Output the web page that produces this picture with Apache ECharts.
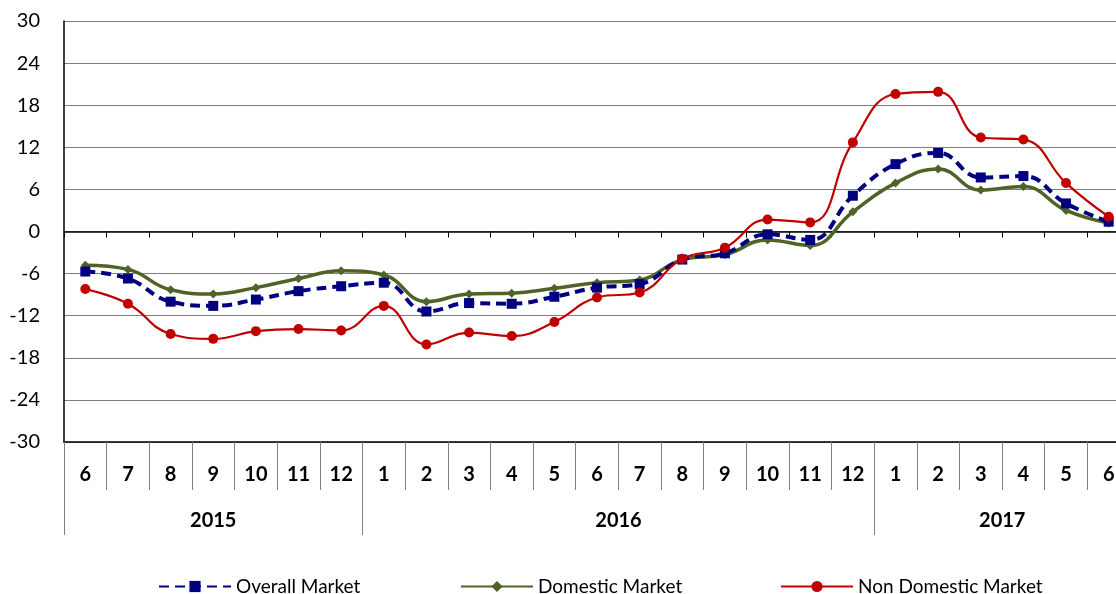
<!DOCTYPE html>
<html><head><meta charset="utf-8">
<script src="https://cdn.jsdelivr.net/npm/echarts@6/dist/echarts.min.js"></script>
<style>html,body{margin:0;padding:0;background:#fff}#c{width:1116px;height:594px}</style>
</head><body><div id="c"></div>
<script>
var months = ['6','7','8','9','10','11','12','1','2','3','4','5','6','7','8','9','10','11','12','1','2','3','4','5','6'];
var years = ['2015','2015','2015','2015','2015','2015','2015','2016','2016','2016','2016','2016','2016','2016','2016','2016','2016','2016','2016','2017','2017','2017','2017','2017','2017'];
var overall = [-5.7,-6.7,-10.0,-10.6,-9.7,-8.5,-7.8,-7.3,-11.4,-10.2,-10.3,-9.3,-8.0,-7.5,-4.0,-3.1,-0.4,-1.2,5.1,9.6,11.2,7.7,7.9,4.0,1.4];
var domestic = [-4.8,-5.4,-8.3,-8.9,-8.0,-6.7,-5.6,-6.2,-10.0,-8.9,-8.8,-8.1,-7.3,-6.9,-4.0,-3.3,-1.2,-2.0,2.8,6.9,8.9,5.9,6.4,3.0,1.2];
var nonDomestic = [-8.2,-10.3,-14.6,-15.3,-14.2,-13.9,-14.1,-10.6,-16.1,-14.4,-14.9,-12.9,-9.4,-8.7,-3.9,-2.3,1.7,1.3,12.7,19.6,19.9,13.4,13.1,6.9,2.1];
var yearLabelIdx = {3:0, 12:1, 21:1};
var yearBoundaries = [0,7,19];

var font = 'Lato, "Open Sans", sans-serif';
var chart = echarts.init(document.getElementById('c'));
var legendText = {fontFamily: font, fontSize: 19, color: '#000'};
chart.setOption({
  animation: false,
  grid: {left: 64, width: 1066, top: 21, height: 421, outerBoundsMode: 'none', containLabel: false},
  legend: [
    {data:['Overall Market'], left: 153, top: 572, itemWidth: 72, itemHeight: 14, textStyle: legendText},
    {data:['Domestic Market'], left: 455, top: 572, itemWidth: 72, itemHeight: 14, textStyle: legendText},
    {data:['Non Domestic Market'], left: 775, top: 572, itemWidth: 72, itemHeight: 14, textStyle: legendText}
  ],
  xAxis: [
    {type:'category', data: months, position:'bottom', axisLine:{onZero:true, lineStyle:{color:'#000', width:1.5}},
     axisTick:{show:true, length:6, lineStyle:{color:'#000'}}, axisLabel:{show:false}, splitLine:{show:false}},
    {type:'category', data: months, position:'bottom', axisLine:{onZero:false, lineStyle:{color:'#000', width:1.5}},
     axisTick:{show:true, length:48, lineStyle:{color:'#808080'}},
     axisLabel:{show:true, interval:0, margin:23, fontFamily:font, fontWeight:'bold', fontSize:20, color:'#000'}},
    {type:'category', data: years, position:'bottom', axisLine:{show:false, onZero:false},
     axisTick:{show:true, length:93, interval:function(i){return yearBoundaries.indexOf(i)>=0;}, lineStyle:{color:'#808080'}},
     axisLabel:{show:true, interval:0, margin:69,
       formatter:function(v,i){ if(!(i in yearLabelIdx)) return ''; return yearLabelIdx[i] ? '{s|'+v+'}' : '{n|'+v+'}'; },
       rich:{n:{fontFamily:font, fontWeight:'bold', fontSize:20, color:'#000'},
             s:{fontFamily:font, fontWeight:'bold', fontSize:20, color:'#000', padding:[0,0,0,43]}}}}
  ],
  yAxis: {type:'value', min:-30, max:30, interval:6,
    axisLine:{show:true, lineStyle:{color:'#000', width:1.5}}, axisTick:{show:false},
    axisLabel:{margin:24, fontFamily:font, fontSize:20, color:'#000'},
    splitLine:{lineStyle:{color:'#7f7f7f', width:1.2}}},
  series: [
    {name:'Domestic Market', type:'line', data: domestic, smooth:0.45, symbol:'diamond', symbolSize:9,
     lineStyle:{color:'#4F6228', width:3.5}, itemStyle:{color:'#4F6228'}, z:2},
    {name:'Overall Market', type:'line', data: overall, smooth:0.45, symbol:'rect', symbolSize:10,
     lineStyle:{color:'#000080', width:4, type:[10,6]}, itemStyle:{color:'#000080'}, z:3},
    {name:'Non Domestic Market', type:'line', data: nonDomestic, smooth:0.45, symbol:'circle', symbolSize:10,
     lineStyle:{color:'#C00000', width:2.2}, itemStyle:{color:'#C00000'}, z:4}
  ]
});
</script></body></html>
